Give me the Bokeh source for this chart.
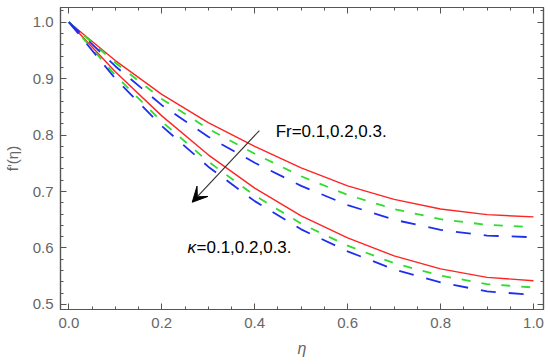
from bokeh.plotting import figure
from bokeh.models import (Range1d, SingleIntervalTicker, LinearAxis, PrintfTickFormatter,
                          Arrow, VeeHead, Label)
from bokeh.embed import file_html
from bokeh.resources import INLINE

# ---- data ----
eta = [0.0, 0.1, 0.2, 0.3, 0.4, 0.5, 0.6, 0.7, 0.8, 0.9, 1.0]

# Fr group (upper curves)
fr_red   = [1.0, 0.932, 0.872, 0.822, 0.780, 0.742, 0.710, 0.686, 0.669, 0.659, 0.655]
fr_green = [1.0, 0.928, 0.864, 0.811, 0.767, 0.727, 0.694, 0.669, 0.651, 0.641, 0.637]
fr_blue  = [1.0, 0.922, 0.853, 0.797, 0.751, 0.710, 0.676, 0.650, 0.632, 0.622, 0.619]

# kappa group (lower curves)
k_red   = [1.0, 0.912, 0.834, 0.765, 0.706, 0.657, 0.618, 0.586, 0.563, 0.548, 0.542]
k_green = [1.0, 0.906, 0.824, 0.753, 0.693, 0.643, 0.604, 0.573, 0.551, 0.536, 0.530]
k_blue  = [1.0, 0.900, 0.816, 0.744, 0.683, 0.633, 0.594, 0.562, 0.539, 0.523, 0.517]

arrow_start = [0.410, 0.808]
arrow_end = [0.2655, 0.681]
fr_label = "Fr=0.1,0.2,0.3."
k_symbol = "κ"
k_label = "=0.1,0.2,0.3."

# ---- figure ----
FRAME = "#555555"
TICKLBL = "#666666"

p = figure(width=550, height=364, output_backend="svg", toolbar_location=None,
           x_range=Range1d(-0.018, 1.0215), y_range=Range1d(0.491, 1.026),
           min_border_left=60, min_border_right=7, min_border_top=7, min_border_bottom=55,
           x_axis_label="η", y_axis_label="f'(η)")
p.grid.visible = False
p.outline_line_color = FRAME
p.outline_line_width = 1.2
p.background_fill_color = "white"
p.border_fill_color = "white"

xt = SingleIntervalTicker(interval=0.2, num_minor_ticks=4)
yt = SingleIntervalTicker(interval=0.1, num_minor_ticks=5)

def style(ax):
    ax.major_tick_in = 6
    ax.major_tick_out = 0
    ax.minor_tick_in = 3
    ax.minor_tick_out = 0
    ax.axis_line_color = FRAME
    ax.axis_line_width = 1.2
    ax.major_tick_line_color = FRAME
    ax.minor_tick_line_color = FRAME
    ax.major_label_text_color = TICKLBL
    ax.major_label_text_font = "Liberation Sans"
    ax.major_label_text_font_size = "15px"
    ax.axis_label_text_color = TICKLBL
    ax.axis_label_text_font = "Liberation Sans"
    ax.axis_label_text_font_size = "15px"
    ax.axis_label_text_font_style = "normal"

xa = p.xaxis[0]
xa.ticker = xt
xa.formatter = PrintfTickFormatter(format="%.1f")
style(xa)
xa.major_label_standoff = 8
xa.axis_label_standoff = 9
xa.axis_label_text_font_style = "italic"
xa.axis_label_text_font_size = "16px"

ya = p.yaxis[0]
ya.ticker = yt
ya.formatter = PrintfTickFormatter(format="%.1f")
style(ya)
ya.major_label_standoff = 7
ya.axis_label_standoff = 9

top = LinearAxis(ticker=SingleIntervalTicker(interval=0.2, num_minor_ticks=4))
style(top)
top.major_label_text_font_size = "0px"
top.major_label_text_color = None
top.major_label_standoff = 0
p.add_layout(top, "above")

right = LinearAxis(ticker=SingleIntervalTicker(interval=0.1, num_minor_ticks=5))
style(right)
right.major_label_text_font_size = "0px"
right.major_label_text_color = None
right.major_label_standoff = 0
p.add_layout(right, "right")

RED = "#ff2424"
GREEN = "#2fdc2f"
BLUE = "#1e30ee"

for ys in (fr_red, k_red):
    p.line(eta, ys, line_color=RED, line_width=1.4)
for ys in (fr_green, k_green):
    p.line(eta, ys, line_color=GREEN, line_width=1.8, line_dash="9 11")
for ys in (fr_blue, k_blue):
    p.line(eta, ys, line_color=BLUE, line_width=1.8, line_dash="15 13")

p.add_layout(Arrow(end=VeeHead(size=15, fill_color="black", line_color="black"),
                   x_start=arrow_start[0], y_start=arrow_start[1],
                   x_end=arrow_end[0], y_end=arrow_end[1],
                   line_color="#333333", line_width=1.1))

p.add_layout(Label(x=0.445, y=0.806, text=fr_label, text_font="Liberation Sans",
                   text_font_size="17px", text_color="black", text_baseline="alphabetic"))
p.add_layout(Label(x=0.2554, y=0.600, text=k_symbol, text_font="Liberation Sans",
                   text_font_size="17px", text_font_style="italic", text_color="black",
                   text_baseline="alphabetic"))
p.add_layout(Label(x=0.2554, y=0.600, x_offset=9, text=k_label, text_font="Liberation Sans",
                   text_font_size="17px", text_color="black", text_baseline="alphabetic"))

open("out.html", "w").write(file_html(p, INLINE))
